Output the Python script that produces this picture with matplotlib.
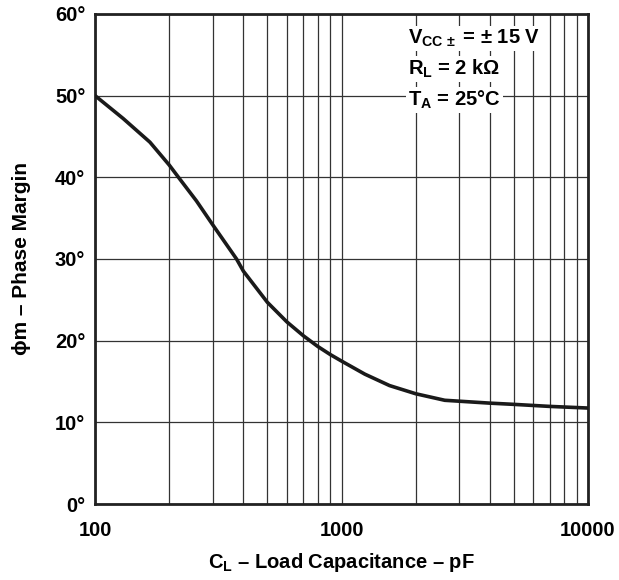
import numpy as np
import matplotlib.pyplot as plt
from matplotlib.ticker import FixedLocator, NullFormatter

plt.rcParams['font.family'] = ['Liberation Sans', 'DejaVu Sans']
plt.rcParams['mathtext.fontset'] = 'custom'
plt.rcParams['mathtext.rm'] = 'Liberation Sans:bold'
plt.rcParams['mathtext.bf'] = 'Liberation Sans:bold'
plt.rcParams['mathtext.it'] = 'Liberation Sans:bold'

# load capacitance (pF) vs phase margin (deg)
cap_pf = [100, 130, 167, 200, 218, 258, 300, 375, 400, 500, 600, 700, 800, 900,
          1000, 1243, 1566, 2000, 2622, 4000, 5000, 7000, 10000]
phase_deg = [50.0, 47.2, 44.3, 41.5, 40.0, 37.1, 34.2, 30.0, 28.5, 24.7, 22.3, 20.6,
             19.3, 18.3, 17.5, 15.9, 14.5, 13.5, 12.7, 12.35, 12.2, 11.95, 11.75]

x_ticks = [100, 1000, 10000]
x_ticklabels = ['100', '1000', '10000']
y_ticks = [0, 10, 20, 30, 40, 50, 60]
y_ticklabels = [f'{v}°' for v in y_ticks]

conditions = [r'V$_{\mathrm{CC}\,\pm}$ = ± 15 V',
              r'R$_{\mathrm{L}}$ = 2 kΩ',
              r'T$_{\mathrm{A}}$ = 25°C']

fs = 14.5

fig = plt.figure(figsize=(6.19, 5.8), dpi=100)
ax = fig.add_axes([0.1535, 0.131, 0.7965, 0.845])

ax.set_xscale('log')
ax.set_xlim(100, 10000)
ax.set_ylim(0, 60)

# grid: every decade subdivision vertically, every 10 deg horizontally
minor_x = [m * d for d in (100, 1000) for m in range(2, 10)]
ax.xaxis.set_major_locator(FixedLocator(x_ticks))
ax.xaxis.set_minor_locator(FixedLocator(minor_x))
ax.xaxis.set_minor_formatter(NullFormatter())
ax.set_xticklabels(x_ticklabels)
ax.set_yticks(y_ticks)
ax.set_yticklabels(y_ticklabels)
ax.grid(True, which='both', color='#333333', linewidth=0.9)
ax.tick_params(which='both', length=0, labelsize=fs)
ax.tick_params(axis='x', pad=12)
ax.tick_params(axis='y', pad=7)
for lbl in ax.get_xticklabels() + ax.get_yticklabels():
    lbl.set_fontweight('bold')

for sp in ax.spines.values():
    sp.set_linewidth(2.0)
    sp.set_color('#222222')

ax.plot(cap_pf, phase_deg, color='#1a1a1a', linewidth=2.6, solid_capstyle='round',
        zorder=3)

# conditions block, each line masks the grid behind it
for i, txt in enumerate(conditions):
    ax.text(0.635, 0.939 - i * 0.063, txt, transform=ax.transAxes, fontsize=fs,
            fontweight='bold', ha='left', va='baseline', zorder=4,
            bbox=dict(facecolor='white', edgecolor='none', pad=1.5))

ax.set_xlabel(r'C$_{\mathrm{L}}$ – Load Capacitance – pF', fontsize=fs,
              fontweight='bold', labelpad=8)
ax.set_ylabel('ϕm – Phase Margin', fontsize=15, fontweight='bold', labelpad=17)

fig.savefig('out.png', dpi=100)
